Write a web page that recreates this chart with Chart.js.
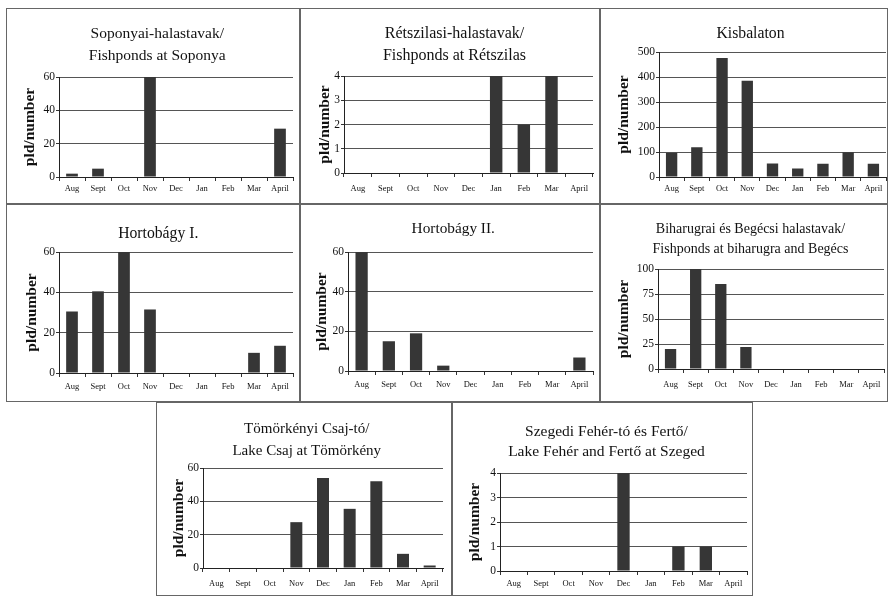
<!DOCTYPE html>
<html>
<head>
<meta charset="utf-8">
<script src="https://cdn.jsdelivr.net/npm/chart.js@4"></script>
<style>
  html, body { margin: 0; padding: 0; background: #fff; }
  body { width: 890px; height: 596px; position: relative; overflow: hidden; }
  .panel { position: absolute; border: 1px solid #666; box-sizing: border-box; }
  .inner { position: absolute; left: 0; top: 0; right: 0; bottom: 0; }
</style>
</head>
<body>
<script>
// honapok (x tengely)
const months = ['Aug', 'Sept', 'Oct', 'Nov', 'Dec', 'Jan', 'Feb', 'Mar', 'April'];

// egyedszamok helyszinenkent
const soponya = [2, 5, 0, 60, 0, 0, 0, 0, 29];
const retszilas = [0, 0, 0, 0, 0, 4, 2, 4, 0];
const kisbalaton = [97, 119, 476, 385, 54, 34, 53, 99, 53];
const hortobagy1 = [30.5, 40.5, 60, 31.5, 0, 0, 0, 10, 13.5];
const hortobagy2 = [60, 15, 19, 2.7, 0, 0, 0, 0, 6.8];
const biharugra = [20, 100, 85, 22, 0, 0, 0, 0, 0];
const tomorkeny = [0, 0, 0, 27.5, 54, 35.5, 52, 8.5, 1.5];
const szeged = [0, 0, 0, 0, 4, 0, 1, 1, 0];

// cimek
const titles = [
    ['Soponyai-halastavak/', 'Fishponds at Soponya'],
    ['Rétszilasi-halastavak/', 'Fishponds at Rétszilas'],
    ['Kisbalaton'],
    ['Hortobágy I.'],
    ['Hortobágy II.'],
    ['Biharugrai és Begécsi halastavak/', 'Fishponds at biharugra and Begécs'],
    ['Tömörkényi Csaj-tó/', 'Lake Csaj at Tömörkény'],
    ['Szegedi Fehér-tó és Fertő/', 'Lake Fehér and Fertő at Szeged']
];
const seriesList = [soponya, retszilas, kisbalaton, hortobagy1, hortobagy2, biharugra, tomorkeny, szeged];
const yMax = [60, 4, 500, 60, 60, 100, 60, 4];
const yStep = [20, 1, 100, 20, 20, 25, 20, 1];

// panelek helye (box) es a rajzterulet a panelen belul
const panels = [
    {x: 6, y: 8, w: 294, h: 196, l: 53, r: 287, t: 69, b: 169, tt: 15, fs: 15.5, lh: 22, yt: 24.5, lp: 2.5},
    {x: 300, y: 8, w: 300, h: 196, l: 44, r: 293, t: 68, b: 165, tt: 15, fs: 16, lh: 22, yt: 25, lp: 6.5},
    {x: 600, y: 8, w: 288, h: 196, l: 59, r: 286, t: 44, b: 169, tt: 15, fs: 15.7, lh: 22, yt: 24, lp: 2.5},
    {x: 6, y: 204, w: 294, h: 198, l: 53, r: 287, t: 48, b: 169, tt: 19, fs: 15.7, lh: 22, yt: 26.5, lp: 4.5},
    {x: 300, y: 204, w: 300, h: 198, l: 48, r: 293, t: 48, b: 167, tt: 14, fs: 15.3, lh: 22, yt: 22.5, lp: 4.5},
    {x: 600, y: 204, w: 288, h: 198, l: 58, r: 286, t: 65, b: 165, tt: 15, fs: 14, lh: 20, yt: 24, lp: 6.5},
    {x: 156, y: 402, w: 296, h: 194, l: 47, r: 287, t: 66, b: 166, tt: 16, fs: 15, lh: 22, yt: 23.5, lp: 6.5},
    {x: 452, y: 402, w: 301, h: 194, l: 48, r: 295, t: 71, b: 169, tt: 20, fs: 15.5, lh: 20, yt: 23, lp: 3.5}
];

const serif = "'Liberation Serif', 'DejaVu Serif', serif";

function makeChart(i) {
    const p = panels[i];
    const panel = document.createElement('div');
    panel.className = 'panel';
    panel.style.left = p.x + 'px';
    panel.style.top = p.y + 'px';
    panel.style.width = p.w + 'px';
    panel.style.height = p.h + 'px';
    const inner = document.createElement('div');
    inner.className = 'inner';
    const canvas = document.createElement('canvas');
    inner.appendChild(canvas);
    panel.appendChild(inner);
    document.body.appendChild(panel);

    const titleLines = titles[i];
    const padLeft = p.yt - 1 - 9;
    const padTop = p.tt - 1;

    new Chart(canvas, {
        type: 'bar',
        data: {
            labels: months,
            datasets: [{
                data: seriesList[i],
                backgroundColor: '#363636',
                categoryPercentage: 1,
                barPercentage: 0.45
            }]
        },
        options: {
            responsive: true,
            maintainAspectRatio: false,
            animation: false,
            layout: {
                padding: {top: padTop, left: padLeft, right: p.w - p.r - 1, bottom: 0}
            },
            plugins: {
                legend: {display: false},
                tooltip: {enabled: false},
                title: {
                    display: true,
                    text: titleLines,
                    color: '#111',
                    font: {family: serif, size: p.fs, weight: 'normal', lineHeight: p.lh / p.fs},
                    padding: {top: 0, bottom: p.t - p.tt - titleLines.length * p.lh}
                }
            },
            scales: {
                x: {
                    grid: {
                        offset: true,
                        drawOnChartArea: true,
                        color: ctx => ctx.index === months.length ? '#c4c4c4' : 'rgba(0,0,0,0)',
                        tickColor: '#333',
                        tickLength: 4
                    },
                    border: {color: '#222', width: 1},
                    ticks: {
                        color: '#111',
                        font: {family: serif, size: 8.5},
                        padding: p.lp,
                        maxRotation: 0,
                        autoSkip: false
                    },
                    afterFit: s => { s.height = p.h - p.b - 1; }
                },
                y: {
                    min: 0,
                    max: yMax[i],
                    grid: {color: '#555', tickColor: '#333', tickLength: 3},
                    border: {color: '#222', width: 1},
                    ticks: {
                        stepSize: yStep[i],
                        color: '#111',
                        font: {family: serif, size: 11.5},
                        padding: 1
                    },
                    title: {
                        display: true,
                        text: 'pld/number',
                        color: '#111',
                        font: {family: serif, size: 15.5, weight: 'bold', lineHeight: 1.15},
                        padding: 0
                    },
                    afterFit: s => { s.width = (p.l - 1) - padLeft; }
                }
            }
        }
    });
}

for (let i = 0; i < panels.length; i++) {
    makeChart(i);
}
</script>
</body>
</html>
